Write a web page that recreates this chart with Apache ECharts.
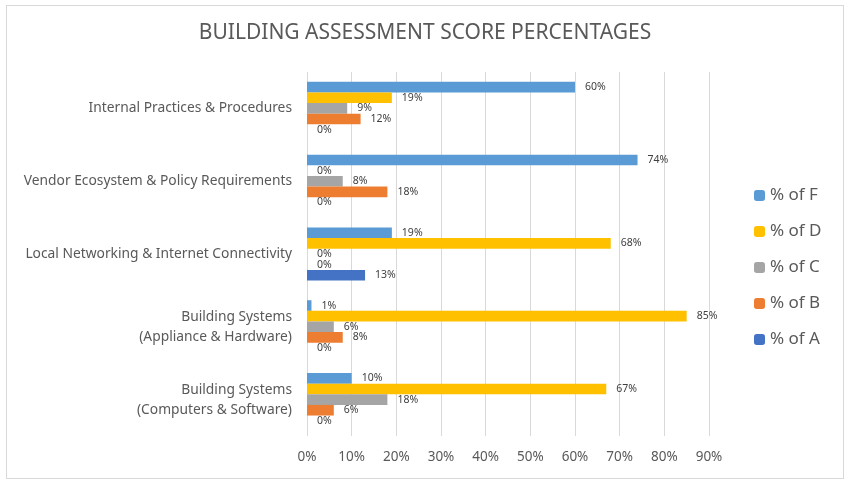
<!DOCTYPE html>
<html>
<head>
<meta charset="utf-8">
<script src="https://cdn.jsdelivr.net/npm/echarts@6/dist/echarts.min.js"></script>
<style>
  html, body { margin: 0; padding: 0; background: #fff; }
  #frame { position: absolute; left: 6px; top: 5px; width: 836px; height: 472px; border: 1px solid #d9d9d9; }
  #chart { width: 850px; height: 484px; }
</style>
</head>
<body>
<div id="frame"></div>
<div id="chart"></div>
<script>
// categories listed bottom to top, as the category axis draws them
var categories = [
    'Building Systems\n(Computers & Software)',
    'Building Systems\n(Appliance & Hardware)',
    'Local Networking & Internet Connectivity',
    'Vendor Ecosystem & Policy Requirements',
    'Internal Practices & Procedures'
];
var pctA = [0, 0, 13, 0, 0];
var pctB = [6, 8, 0, 18, 12];
var pctC = [18, 6, 0, 8, 9];
var pctD = [67, 85, 68, 0, 19];
var pctF = [10, 1, 19, 74, 60];
var xTicks = [0, 10, 20, 30, 40, 50, 60, 70, 80, 90];

var font = 'Noto Sans';

function barSeries(name, data, color) {
    return {
        name: name,
        type: 'bar',
        data: data,
        barGap: '0%',
        barCategoryGap: '27%',
        itemStyle: { color: color },
        label: {
            show: true,
            position: 'right',
            distance: 10,
            formatter: '{c}%',
            color: '#404040',
            fontFamily: font,
            fontSize: 10.5
        }
    };
}

var option = {
    backgroundColor: 'transparent',
    animation: false,
    title: {
        text: 'BUILDING ASSESSMENT SCORE PERCENTAGES',
        left: 'center',
        top: 18,
        textStyle: { color: '#595959', fontFamily: font, fontSize: 21, fontWeight: 'normal' }
    },
    legend: {
        orient: 'vertical',
        left: 749,
        top: 182,
        itemWidth: 11,
        itemHeight: 11,
        itemGap: 19,
        data: ['% of F', '% of D', '% of C', '% of B', '% of A'],
        textStyle: { color: '#595959', fontFamily: font, fontSize: 17 }
    },
    grid: { left: 307, right: 141, top: 72, bottom: 48 },
    xAxis: {
        type: 'value',
        min: xTicks[0],
        max: xTicks[xTicks.length - 1],
        interval: 10,
        axisLine: { show: false },
        axisTick: { show: false },
        splitLine: { lineStyle: { color: '#d9d9d9' } },
        axisLabel: { formatter: '{value}%', color: '#595959', fontFamily: font, fontSize: 13.5, margin: 14 }
    },
    yAxis: {
        type: 'category',
        data: categories,
        axisLine: { show: false },
        axisTick: { show: false },
        axisLabel: { color: '#595959', fontFamily: font, fontSize: 13.8, margin: 15, lineHeight: 20 }
    },
    // first series sits at the top of each group, so F comes first
    series: [
        barSeries('% of F', pctF, '#5b9bd5'),
        barSeries('% of D', pctD, '#ffc000'),
        barSeries('% of C', pctC, '#a5a5a5'),
        barSeries('% of B', pctB, '#ed7d31'),
        barSeries('% of A', pctA, '#4472c4')
    ]
};

var chart = echarts.init(document.getElementById('chart'));
chart.setOption(option);
</script>
</body>
</html>
